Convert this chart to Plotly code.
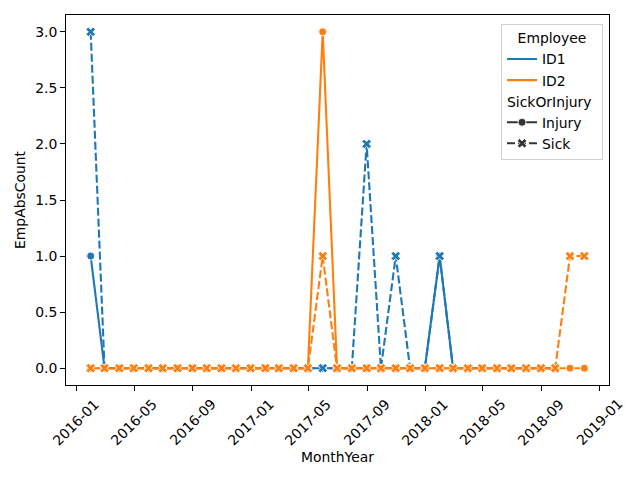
import pandas as pd
import plotly.graph_objects as go

# ---- data -------------------------------------------------------------
month_starts = pd.date_range(start="2016-01-01", periods=35, freq="MS")
months = month_starts + pd.offsets.MonthEnd(0)          # month-end dates

N = None
id1_injury = [1, 0, 0, 0, 0, 0, 0, 0, 0, 0, 0, 0, 0, 0, 0, 0, 0, 0, 0, 0,
              0, 0, 0, 0, 1, 0, 0, 0, 0, 0, 0, 0, 0, N, N]
id1_sick   = [3, 0, 0, 0, 0, 0, 0, 0, 0, 0, 0, 0, 0, 0, 0, 0, 0, 0, 0, 2,
              0, 1, 0, 0, 1, 0, 0, 0, 0, 0, 0, 0, 0, N, N]
id2_injury = [0, 0, 0, 0, 0, 0, 0, 0, 0, 0, 0, 0, 0, 0, 0, 0, 3, 0, 0, 0,
              0, 0, 0, 0, 0, 0, 0, 0, 0, 0, 0, 0, 0, 0, 0]
id2_sick   = [0, 0, 0, 0, 0, 0, 0, 0, 0, 0, 0, 0, 0, 0, 0, 0, 1, 0, 0, 0,
              0, 0, 0, 0, 0, 0, 0, 0, 0, 0, 0, 0, 0, 1, 1]

x_tick_labels = ["2016-01", "2016-05", "2016-09", "2017-01", "2017-05",
                 "2017-09", "2018-01", "2018-05", "2018-09", "2019-01"]
y_tick_values = [0.0, 0.5, 1.0, 1.5, 2.0, 2.5, 3.0]

# ---- style -------------------------------------------------------------
BLUE = "#1f77b4"
ORANGE = "#ff7f0e"
FONT = "DejaVu Sans"
FS = 13.9
DASH = "8px,3px"

fig = go.Figure()

series = [
    ("ID1", "Injury", id1_injury, BLUE),
    ("ID1", "Sick", id1_sick, BLUE),
    ("ID2", "Injury", id2_injury, ORANGE),
    ("ID2", "Sick", id2_sick, ORANGE),
]
for emp, kind, vals, col in series:
    fig.add_trace(go.Scatter(
        x=months, y=vals, mode="lines+markers",
        line=dict(color=col, width=2.1, dash="solid" if kind == "Injury" else DASH),
        marker=dict(symbol="circle" if kind == "Injury" else "x",
                    size=8 if kind == "Injury" else 8.5,
                    color=col, line=dict(color="white", width=0.9)),
        showlegend=False, name=f"{emp} {kind}",
    ))

# legend entries
fig.add_trace(go.Scatter(x=[None], y=[None], mode="lines", name="ID1",
                         line=dict(color=BLUE, width=2.1), legendgroup="emp"))
fig.add_trace(go.Scatter(x=[None], y=[None], mode="lines", name="ID2",
                         line=dict(color=ORANGE, width=2.1), legendgroup="emp"))
fig.add_trace(go.Scatter(x=[None], y=[None], mode="lines+markers", name="Injury",
                         line=dict(color="#333333", width=2.1),
                         marker=dict(symbol="circle", size=8, color="#333333",
                                     line=dict(color="white", width=0.9)),
                         legendgroup="style",
                         legendgrouptitle=dict(text="SickOrInjury",
                                               font=dict(family=FONT, size=FS, color="black"))))
fig.add_trace(go.Scatter(x=[None], y=[None], mode="lines+markers", name="Sick",
                         line=dict(color="#333333", width=2.1, dash=DASH),
                         marker=dict(symbol="x", size=8.5, color="#333333",
                                     line=dict(color="white", width=0.9)),
                         legendgroup="style"))

# axis range with 5% margins like matplotlib
span = months[-1] - months[0]
x_range = [months[0] - span * 0.05, months[-1] + span * 0.05]
y_span = 3.0
y_range = [0 - 0.05 * y_span, y_span * 1.05]

tick_dates = [pd.Timestamp(t + "-01") for t in x_tick_labels]

fig.update_xaxes(
    range=x_range, tickvals=tick_dates, showticklabels=False,
    ticks="outside", ticklen=4.86, tickwidth=1, tickcolor="black",
    showline=True, mirror=True, linecolor="black", linewidth=1,
    showgrid=False, zeroline=False,
)
fig.update_yaxes(
    range=y_range, tickvals=y_tick_values, tickformat=".1f",
    ticks="outside", ticklen=4.86, tickwidth=1, tickcolor="black",
    tickfont=dict(family=FONT, size=FS, color="black"),
    showline=True, mirror=True, linecolor="black", linewidth=1,
    showgrid=False, zeroline=False,
    title=dict(text="EmpAbsCount", font=dict(family=FONT, size=FS, color="black"),
               standoff=6),
    automargin=False,
)

# rotated x tick labels (centered under ticks like matplotlib)
for d, lab in zip(tick_dates, x_tick_labels):
    fig.add_annotation(x=d, y=0, xref="x", yref="paper", text=lab,
                       showarrow=False, textangle=-45, xanchor="center",
                       yanchor="top", yshift=-8.5,
                       font=dict(family=FONT, size=FS, color="black"))

fig.add_annotation(x=0.5, y=-0.195, xref="paper", yref="paper", text="MonthYear",
                   showarrow=False, xanchor="center", yanchor="middle",
                   font=dict(family=FONT, size=FS, color="black"))

# page body has an 8px margin: shrink figure so the window shows 640x480 layout
fig.update_layout(
    width=632, height=472,
    margin=dict(l=58, r=31, t=7, b=95, autoexpand=False),
    plot_bgcolor="white", paper_bgcolor="white",
    font=dict(family=FONT, size=FS, color="black"),
    legend=dict(
        x=0.989, y=0.9745, xanchor="right", yanchor="top",
        title=dict(text="Employee", side="top center",
                   font=dict(family=FONT, size=FS, color="black")),
        bordercolor="#d0d0d0", borderwidth=1, bgcolor="rgba(255,255,255,0.8)",
        font=dict(family=FONT, size=FS, color="black"),
        tracegroupgap=0, itemwidth=30, traceorder="grouped",
    ),
)

fig.write_html("out.html")
